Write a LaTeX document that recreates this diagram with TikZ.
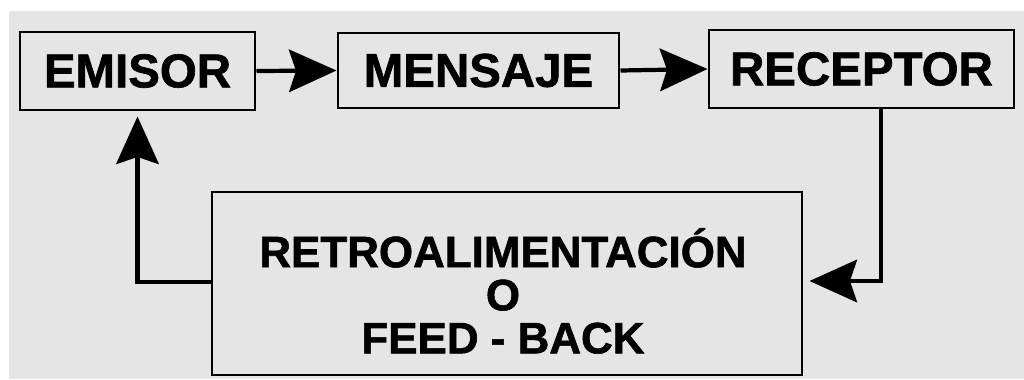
\documentclass[tikz,border=0pt]{standalone}
\usepackage{fontspec}
\setmainfont{Liberation Sans}[BoldFeatures={FakeBold=1.3}]
\usepackage{xcolor}
\usetikzlibrary{arrows.meta}
\definecolor{fondo}{RGB}{229,229,229}

\begin{document}
\begin{tikzpicture}[x=1cm,y=1cm,
                caja/.style={draw=black, line width=1.7pt, fill=fondo, inner sep=0pt, font=\fontsize{27}{27}\selectfont\bfseries},
                flecha/.style={line width=2.4pt, -{Stealth[length=0.95cm, width=0.85cm, inset=0.14cm]}}]
                \useasboundingbox (0,0) rectangle (20.48,7.58);
                \fill [fondo] (0.18,0) rectangle (20.48,7.36);
                \node [caja, minimum width=4.7cm, minimum height=1.56cm] (emisor) at (2.75,6.16) {EMISOR};
                \node [caja, minimum width=5.62cm, minimum height=1.5cm] (mensaje) at (9.57,6.17) {MENSAJE};
                \node [caja, minimum width=6.1cm, minimum height=1.56cm] (receptor) at (17.23,6.2) {RECEPTOR};
                \node [caja, minimum width=11.8cm, minimum height=3.66cm] (retro) at (10.14,1.91) {};
                \node [align=center, inner sep=0pt, font=\fontsize{25}{24.5}\selectfont\bfseries] (retrotexto) at ([xshift=-0.08cm,yshift=-0.15cm]retro.center) {RETROALIMENTACIÓN\\O\\FEED - BACK};
                \draw [flecha] (emisor.east) to (mensaje.west);
                \draw [flecha] (mensaje.east) to (receptor.west);
                \draw [flecha] ([xshift=0.39cm]receptor.south) |- ([yshift=0.05cm,xshift=0.12cm]retro.east);
                \draw [flecha] ([yshift=0.03cm]retro.west) -| ([yshift=-0.1cm]emisor.south);
            \end{tikzpicture}
\end{document}
